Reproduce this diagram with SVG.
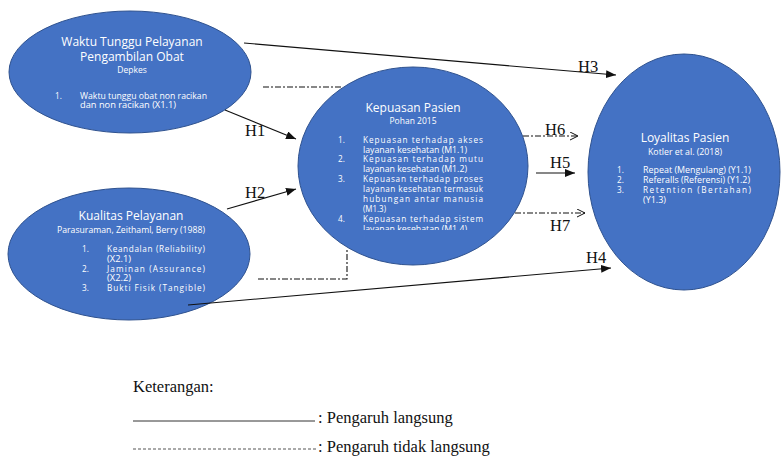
<svg xmlns="http://www.w3.org/2000/svg" width="783" height="456" viewBox="0 0 783 456">
<style>
.node{fill:#4472C4;stroke:#2F528F;stroke-width:1}
.t{font-family:"Open Sans","Liberation Sans",sans-serif;fill:#ffffff}
.title{font-size:12px}
.sub{font-size:8.5px}
.li{font-size:8.2px}
.ln{fill:none;stroke:#111111;stroke-width:1.1}
.dd{stroke-dasharray:6 2 2 2}
.lbl{font-family:"Liberation Serif","Times New Roman",serif;font-size:16.5px;fill:#111111}
</style>
<defs>
<marker id="fa" markerUnits="userSpaceOnUse" markerWidth="12" markerHeight="10" refX="10" refY="4" orient="auto">
<path d="M0,0 L10,4 L0,8 Z" fill="#111111"/>
</marker>
<marker id="oa" markerUnits="userSpaceOnUse" markerWidth="12" markerHeight="10" refX="9" refY="4" orient="auto">
<path d="M1,0 L9,4 L1,8" fill="none" stroke="#111111" stroke-width="1"/>
</marker>
<clipPath id="clipM"><rect x="300" y="60" width="240" height="170"/></clipPath>
</defs>

<g id="waktu">
<ellipse class="node" cx="130" cy="72" rx="121" ry="61"/>
<text class="t title" x="132" y="46" text-anchor="middle">Waktu Tunggu Pelayanan</text>
<text class="t title" x="132" y="61" text-anchor="middle">Pengambilan Obat</text>
<text class="t sub" x="132" y="73" text-anchor="middle">Depkes</text>
<text class="t li" x="55" y="99">1.</text>
<text class="t li" x="80" y="99" textLength="127" lengthAdjust="spacingAndGlyphs">Waktu tunggu obat non racikan</text>
<text class="t li" x="80" y="108" textLength="96" lengthAdjust="spacingAndGlyphs">dan non racikan (X1.1)</text>
</g>

<g id="kualitas">
<ellipse class="node" cx="129" cy="254" rx="121" ry="66"/>
<text class="t title" x="131" y="220" text-anchor="middle">Kualitas Pelayanan</text>
<text class="t sub" x="131" y="233" text-anchor="middle" textLength="148" lengthAdjust="spacingAndGlyphs">Parasuraman, Zeithaml, Berry (1988)</text>
<text class="t li" x="82" y="252">1.</text>
<text class="t li" x="107" y="252" textLength="98" lengthAdjust="spacing">Keandalan (Reliability)</text>
<text class="t li" x="107" y="262" textLength="24" lengthAdjust="spacingAndGlyphs">(X2.1)</text>
<text class="t li" x="82" y="272">2.</text>
<text class="t li" x="107" y="272" textLength="98" lengthAdjust="spacing">Jaminan (Assurance)</text>
<text class="t li" x="107" y="281" textLength="24" lengthAdjust="spacingAndGlyphs">(X2.2)</text>
<text class="t li" x="82" y="291">3.</text>
<text class="t li" x="107" y="291" textLength="98" lengthAdjust="spacing">Bukti Fisik (Tangible)</text>
</g>

<g id="kepuasan">
<ellipse class="node" cx="413" cy="166" rx="115" ry="99"/>
<text class="t title" x="413" y="112" text-anchor="middle">Kepuasan Pasien</text>
<text class="t sub" x="413" y="124" text-anchor="middle">Pohan 2015</text>
<g clip-path="url(#clipM)">
<text class="t li" x="338" y="143">1.</text>
<text class="t li" x="363" y="143" textLength="120" lengthAdjust="spacing">Kepuasan terhadap akses</text>
<text class="t li" x="363" y="153" textLength="104" lengthAdjust="spacingAndGlyphs">layanan kesehatan (M1.1)</text>
<text class="t li" x="338" y="162">2.</text>
<text class="t li" x="363" y="162" textLength="120" lengthAdjust="spacing">Kepuasan terhadap mutu</text>
<text class="t li" x="363" y="172" textLength="104" lengthAdjust="spacingAndGlyphs">layanan kesehatan (M1.2)</text>
<text class="t li" x="338" y="182">3.</text>
<text class="t li" x="363" y="182" textLength="120" lengthAdjust="spacing">Kepuasan terhadap proses</text>
<text class="t li" x="363" y="192" textLength="120" lengthAdjust="spacing">layanan kesehatan termasuk</text>
<text class="t li" x="363" y="202" textLength="120" lengthAdjust="spacing">hubungan antar manusia</text>
<text class="t li" x="363" y="212" textLength="23" lengthAdjust="spacingAndGlyphs">(M1.3)</text>
<text class="t li" x="338" y="222">4.</text>
<text class="t li" x="363" y="222" textLength="120" lengthAdjust="spacing">Kepuasan terhadap sistem</text>
<text class="t li" x="363" y="232" textLength="104" lengthAdjust="spacingAndGlyphs">layanan kesehatan (M1.4)</text>
</g>
</g>

<g id="loyalitas">
<ellipse class="node" cx="684" cy="172" rx="96" ry="118"/>
<text class="t title" x="685" y="142" text-anchor="middle">Loyalitas Pasien</text>
<text class="t sub" x="685" y="155" text-anchor="middle" textLength="74" lengthAdjust="spacingAndGlyphs">Kotler et al. (2018)</text>
<text class="t li" x="617" y="173">1.</text>
<text class="t li" x="643" y="173" textLength="108" lengthAdjust="spacingAndGlyphs">Repeat (Mengulang) (Y1.1)</text>
<text class="t li" x="617" y="183">2.</text>
<text class="t li" x="643" y="183" textLength="107" lengthAdjust="spacingAndGlyphs">Referalls (Referensi) (Y1.2)</text>
<text class="t li" x="617" y="193">3.</text>
<text class="t li" x="643" y="193" textLength="108" lengthAdjust="spacing">Retention (Bertahan)</text>
<text class="t li" x="643" y="203" textLength="23" lengthAdjust="spacingAndGlyphs">(Y1.3)</text>
</g>

<g id="connectors">
<line class="ln" x1="244" y1="43" x2="616" y2="75" marker-end="url(#fa)"/>
<line class="ln" x1="225" y1="110" x2="296" y2="139" marker-end="url(#fa)"/>
<line class="ln" x1="227" y1="209" x2="296" y2="189" marker-end="url(#fa)"/>
<line class="ln" x1="188" y1="305" x2="611" y2="268" marker-end="url(#fa)"/>
<line class="ln" x1="536" y1="173" x2="575" y2="173" marker-end="url(#fa)"/>
<line class="ln dd" x1="523" y1="136" x2="578" y2="136" marker-end="url(#oa)"/>
<line class="ln dd" x1="515" y1="213" x2="585" y2="213" marker-end="url(#oa)"/>
<line class="ln dd" x1="263" y1="87" x2="343" y2="87"/>
<polyline class="ln dd" points="258,279 347,279 347,248"/>
<text class="lbl" x="578" y="72">H3</text>
<text class="lbl" x="245" y="136">H1</text>
<text class="lbl" x="245" y="198">H2</text>
<text class="lbl" x="586" y="263">H4</text>
<text class="lbl" x="545" y="135">H6</text>
<text class="lbl" x="550" y="168">H5</text>
<text class="lbl" x="550" y="231">H7</text>
</g>

<g id="legend">
<text class="lbl" x="133" y="392">Keterangan:</text>
<line x1="133" y1="421" x2="315" y2="421" stroke="#333333" stroke-width="1"/>
<text class="lbl" x="318" y="423">: Pengaruh langsung</text>
<line x1="133" y1="449" x2="316" y2="449" stroke="#555555" stroke-width="1" stroke-dasharray="3 2"/>
<text class="lbl" x="318" y="452">: Pengaruh tidak langsung</text>
</g>
</svg>
